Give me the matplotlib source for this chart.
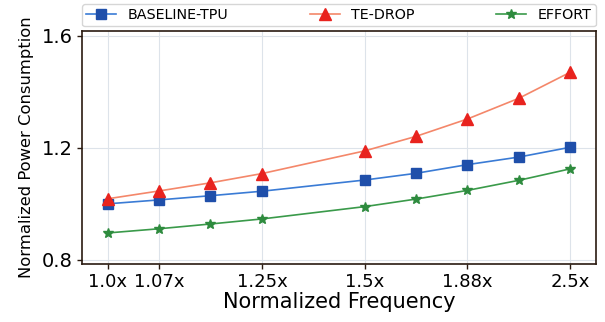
import matplotlib
matplotlib.use("Agg")
import matplotlib.pyplot as plt

positions = [0, 1, 2, 3, 5, 6, 7, 8, 9]
tick_positions = [0, 1, 3, 5, 7, 9]
tick_labels = ["1.0x", "1.07x", "1.25x", "1.5x", "1.88x", "2.5x"]

baseline_tpu = [1.000, 1.014, 1.029, 1.045, 1.085, 1.109, 1.140, 1.167, 1.202]
te_drop = [1.018, 1.046, 1.075, 1.108, 1.189, 1.241, 1.303, 1.377, 1.470]
effort = [0.896, 0.911, 0.928, 0.946, 0.990, 1.017, 1.048, 1.084, 1.125]

fig = plt.figure(figsize=(6.05, 3.22), dpi=100)
ax = fig.add_axes([0.1355, 0.180, 0.8496, 0.7236])

ax.plot(positions, baseline_tpu, color="#3a7bd5", lw=1.2, marker="s", ms=7.5,
        mfc="#1f4faa", mec="#1f4faa", label="BASELINE-TPU")
ax.plot(positions, te_drop, color="#f4876a", lw=1.2, marker="^", ms=8,
        mfc="#e8231e", mec="#e8231e", label="TE-DROP")
ax.plot(positions, effort, color="#3a9a4a", lw=1.2, marker="*", ms=7.5,
        mfc="#2e8b3e", mec="#2e8b3e", label="EFFORT")

ax.set_xlim(-0.5, 9.5)
ax.set_ylim(0.785, 1.617)
ax.set_xticks(tick_positions)
ax.set_xticklabels(tick_labels, fontsize=13)
ax.set_yticks([0.8, 1.2, 1.6])
ax.set_yticklabels(["0.8", "1.2", "1.6"], fontsize=14)
ax.tick_params(axis="both", length=3.5, width=1, color="#2a1a10", pad=3)
ax.grid(True, color="#dde3ea", lw=0.8)
ax.set_axisbelow(True)
ax.set_xlabel("Normalized Frequency", fontsize=15, labelpad=1)
ax.set_ylabel("Normalized Power Consumption", fontsize=11.8, labelpad=6)
for s in ax.spines.values():
    s.set_color("#2a1a10")
    s.set_linewidth(1.2)

ax.legend(loc="lower left", bbox_to_anchor=(0, 1.02, 1, 0.1), mode="expand",
          ncol=3, fontsize=10.3, frameon=True, edgecolor="#cccccc",
          borderaxespad=0, handlelength=2.1, borderpad=0.3)

fig.savefig("out.png", dpi=100)
